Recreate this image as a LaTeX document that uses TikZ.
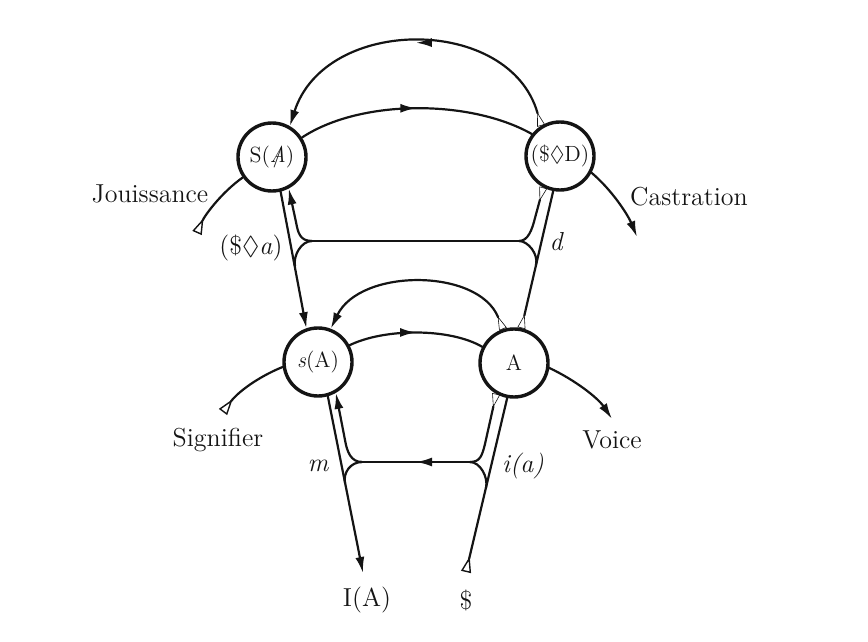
\documentclass[tikz,border=0pt]{standalone}
\usepackage{amssymb}
\usepackage{fontspec}
\usetikzlibrary{arrows.meta,decorations.markings}
\definecolor{graphink}{HTML}{141414}
\newcommand{\barredA}{\ooalign{\textit{A}\cr\hidewidth/\hidewidth\cr}}

\begin{document}
\begin{tikzpicture}[
  x=0.5pt,y=-0.5pt,
  line join=round,
  line cap=round,
  locus/.style={circle,draw=graphink,line width=1.7pt,fill=white,minimum size=34pt,inner sep=0pt,font=\fontsize{11}{13}\selectfont,text=graphink},
  vector/.style={draw=graphink,line width=1.1pt},
  headarrow/.style={vector,-{Latex[length=8pt,width=4.5pt]}},
  midarrow/.style={vector,decoration={markings,mark=at position 0.5 with {\arrow{Latex[length=8pt,width=4.5pt]}}},postaction={decorate}},
  sliver/.style={vector,{Triangle[open,reversed,length=7pt,width=4pt,line width=0.3pt]}-},
  origin/.style={vector,{Triangle[open,reversed,length=8pt,width=5pt,line width=0.7pt]}-},
  caption/.style={font=\fontsize{13}{15}\selectfont,text=graphink},
  vectorlabel/.style={font=\fontsize{13}{15}\selectfont\itshape,text=graphink}
]
  \useasboundingbox (0,0) rectangle (868,642);

  \node[locus] (SA) at (272,157) {S(\barredA)};
  \node[locus] (SD) at (560,156) {(\$$\Diamond$D)};
  \node[locus] (sA) at (318,362) {\textit{s}(A)};
  \node[locus] (A) at (514,363) {A};

  \coordinate (CL1) at (312,241);
  \coordinate (CR1) at (519,241);
  \coordinate (CL2) at (362,462);
  \coordinate (CR2) at (470,462);
  \coordinate (Jstart) at (197,233);
  \coordinate (Sgstart) at (223,412);
  \coordinate (Cend) at (637,237);
  \coordinate (Vend) at (612,419);
  \coordinate (IAend) at (363,573);
  \coordinate (Bstart) at (466,572);

  \draw[midarrow,{Triangle[open,reversed,length=7pt,width=4pt,line width=0.3pt]}-{Latex[length=8pt,width=4.5pt]}]
    (SD.122) .. controls (510,15) and (325,15) .. (SA.60);
  \draw[midarrow] (SA.33) .. controls (360,99) and (470,99) .. (SD.142);

  \draw[headarrow] (SA.-76) -- (sA.109);
  \draw[headarrow] (CL1) .. controls (300,241) and (298,233) .. (296,222) -- (SA.-62);
  \draw[vector] (CL1) .. controls (301,241) and (293,256) .. (295,266);
  \draw[vector] (CL1) -- (CR1);
  \draw[sliver] (SD.-118) -- (535,218) .. controls (532,230) and (528,241) .. (CR1);
  \draw[vector] (CR1) .. controls (528,241) and (538.6,254) .. (536,265);
  \draw[sliver] (A.78) -- (SD.-101);

  \draw[vector,{Triangle[open,reversed,length=7pt,width=4pt,line width=0.3pt]}-{Latex[length=8pt,width=4.5pt]}]
    (A.108) .. controls (478,268) and (360,268) .. (sA.69);
  \draw[midarrow] (sA.28) .. controls (385,328) and (450,328) .. (A.153);

  \draw[origin] (Jstart) .. controls (205,215) and (222,192) .. (SA.-145);
  \draw[origin] (Sgstart) .. controls (238,392) and (258,377) .. (sA.-172);
  \draw[headarrow] (SD.-28) .. controls (612,190) and (628,215) .. (Cend);
  \draw[headarrow] (A.-8) .. controls (575,380) and (598,398) .. (Vend);

  \draw[headarrow] (sA.-74) -- (IAend);
  \draw[headarrow] (CL2) .. controls (351,462) and (347,452) .. (345,440) -- (sA.-60);
  \draw[vector] (CL2) .. controls (351,462) and (343,472) .. (345,483);
  \draw[midarrow] (CR2) -- (CL2);
  \draw[sliver] (A.-120) -- (485,444) .. controls (482,456) and (480,462) .. (CR2);
  \draw[vector] (CR2) .. controls (480,462) and (488.5,477) .. (486,488);
  \draw[origin] (Bstart) -- (A.-101);

  \node[caption] (jouis) at (150,194) {Jouissance};
  \node[caption] (castr) at (689,197) {Castration};
  \node[caption] (signi) at (218,440) {Signifier};
  \node[caption] (voice) at (612,440) {Voice};
  \node[caption] (IA) at (367,600) {I(A)};
  \node[caption] (subj) at (466,600) {\$};
  \node[caption] (demand) at (251,248) {(\$$\Diamond$\textit{a})};
  \node[vectorlabel] (dlab) at (556,242) {d};
  \node[vectorlabel] (mlab) at (318,466) {m};
  \node[vectorlabel] (ilab) at (523,466) {i(a)};
\end{tikzpicture}
\end{document}
